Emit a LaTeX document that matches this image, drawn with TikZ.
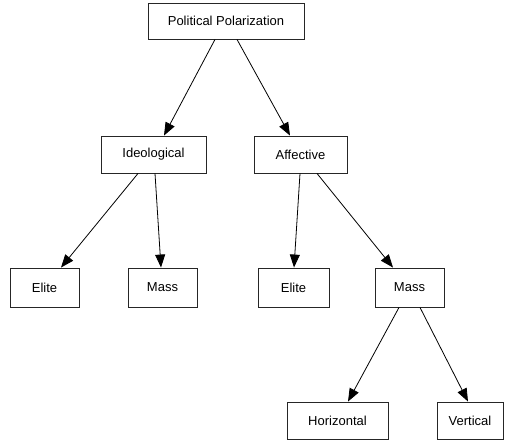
\documentclass[tikz,border=0pt]{standalone}
\usepackage{fontspec}
\setmainfont{Liberation Sans}
\usetikzlibrary{arrows.meta}
\begin{document}
\begin{tikzpicture}[x=1pt,y=-1pt,
  box/.style={draw=black!85,line width=0.9pt,fill=white,inner sep=0pt,minimum height=37pt,font=\fontsize{13}{15}\selectfont},
  arr/.style={line width=0.8pt,-{Triangle[length=13pt,width=10pt]}}]
\useasboundingbox (0,0) rectangle (514,442);
\node[box,minimum width=156pt,minimum height=36pt] (pp) at (226,21) {Political Polarization};
\node[box,minimum width=105pt] (ideo) at (153.5,154.5) {Ideological};
\node[box,minimum width=93pt] (aff) at (300.5,154.5) {Affective};
\node[box,minimum width=69pt,minimum height=39pt] (eliteL) at (44.5,287.5) {Elite};
\node[box,minimum width=69pt,minimum height=39pt] (massL) at (162.5,287.5) {Mass};
\node[box,minimum width=71pt,minimum height=39pt] (eliteM) at (293.5,287.5) {Elite};
\node[box,minimum width=69pt,minimum height=39pt] (massR) at (409.5,287.5) {Mass};
\node[box,minimum width=101pt] (hor) at (337.5,420.5) {Horizontal};
\node[box,minimum width=66pt] (ver) at (470,420.5) {Vertical};
\draw[arr] ([xshift=-11pt]pp.south) -- ([xshift=10.5pt]ideo.north);
\draw[arr] ([xshift=11pt]pp.south) -- ([xshift=-10.5pt]aff.north);
\draw[arr] ([xshift=-15.5pt]ideo.south) -- ([xshift=16.5pt]eliteL.north);
\draw[arr] ([xshift=1.5pt]ideo.south) -- ([xshift=-1.5pt]massL.north);
\draw[arr] ([xshift=-0.5pt]aff.south) -- ([xshift=0.5pt]eliteM.north);
\draw[arr] ([xshift=16.5pt]aff.south) -- ([xshift=-16.5pt]massR.north);
\draw[arr] ([xshift=-10.5pt]massR.south) -- ([xshift=10.5pt]hor.north);
\draw[arr] ([xshift=10.5pt]massR.south) -- ([xshift=-2pt]ver.north);
\end{tikzpicture}
\end{document}
